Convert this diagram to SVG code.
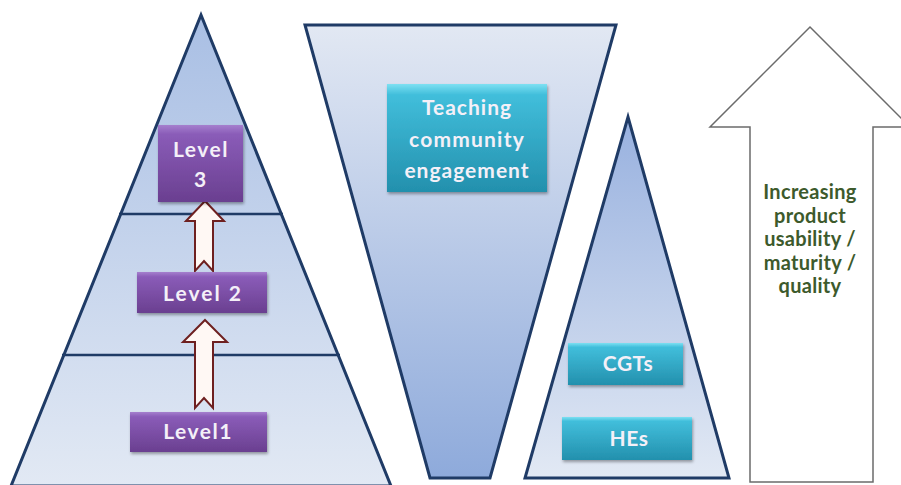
<svg xmlns="http://www.w3.org/2000/svg" width="901" height="485" viewBox="0 0 901 485">
<defs>
<linearGradient id="gPyr" x1="0" y1="0" x2="0" y2="1"><stop offset="0" stop-color="#a9bfe4"/><stop offset="1" stop-color="#e2e9f4"/></linearGradient>
<linearGradient id="gFun" x1="0" y1="0" x2="0" y2="1"><stop offset="0" stop-color="#e2e8f3"/><stop offset="1" stop-color="#8eaadb"/></linearGradient>
<linearGradient id="gTri" x1="0" y1="0" x2="0" y2="1"><stop offset="0" stop-color="#98b1df"/><stop offset="1" stop-color="#e2e9f4"/></linearGradient>
<linearGradient id="gPurple" x1="0" y1="0" x2="0" y2="1"><stop offset="0" stop-color="#a57fce"/><stop offset="0.12" stop-color="#8a5cb8"/><stop offset="1" stop-color="#6a3f90"/></linearGradient>
<linearGradient id="gTeal" x1="0" y1="0" x2="0" y2="1"><stop offset="0" stop-color="#7de0f2"/><stop offset="0.1" stop-color="#41bedb"/><stop offset="1" stop-color="#2390ad"/></linearGradient>
<filter id="sh" x="-10%" y="-10%" width="130%" height="140%"><feDropShadow dx="1" dy="2" stdDeviation="1.5" flood-color="#000" flood-opacity="0.35"/></filter>
</defs>
<style>
.shape{stroke:#1f3b66;stroke-width:3;stroke-linejoin:miter}
.div{stroke:#1f3b66;stroke-width:2.5}
.lvl{fill:url(#gPurple);filter:url(#sh)}
.teal{fill:url(#gTeal);filter:url(#sh)}
.t{font-family:Lato,"Liberation Sans",sans-serif;font-weight:bold;fill:#f4f0f8;text-anchor:middle;font-size:21px}
.up{fill:#fff8f4;stroke:#6e2020;stroke-width:2}
.big{fill:#fff;stroke:#6b6b6b;stroke-width:1.5}
.g{font-family:Lato,"Liberation Sans",sans-serif;font-weight:bold;fill:#3d5a2c;text-anchor:middle;font-size:20px;letter-spacing:0.3px}
</style>
<rect width="901" height="485" fill="#fff"/>
<g id="pyramid">
<polygon class="shape" points="201,15 11,486 391,486" fill="url(#gPyr)"/>
<line class="div" x1="119" y1="214" x2="283" y2="214"/>
<line class="div" x1="62" y1="355" x2="340" y2="355"/>
</g>
<g id="funnel">
<polygon class="shape" points="305,25 616,25 490,478 430,478" fill="url(#gFun)"/>
</g>
<g id="triangle">
<polygon class="shape" points="628,117 729,478 525,478" fill="url(#gTri)"/>
</g>
<g id="big-arrow">
<polygon class="big" points="810,27 910,127 873,127 873,482 750,482 750,127 710,127"/>
<text class="g" x="810" y="199">Increasing</text>
<text class="g" x="810" y="223">product</text>
<text class="g" x="810" y="246">usability /</text>
<text class="g" x="810" y="270">maturity /</text>
<text class="g" x="810" y="293">quality</text>
</g>
<g id="connectors">
<polygon class="up" points="205,201 224,221 213,221 213,271 204,261 195,271 195,221 186,221"/>
<polygon class="up" points="205,320 227,342 213,342 213,408 204,398 195,408 195,342 183,342"/>
</g>
<g id="level3">
<rect class="lvl" x="158" y="125" width="85" height="77"/>
<text class="t" x="201" y="157" letter-spacing="1.5">Level</text>
<text class="t" x="200" y="187">3</text>
</g>
<g id="level2">
<rect class="lvl" x="137" y="272" width="130" height="41"/>
<text class="t" x="203" y="301" letter-spacing="2">Level 2</text>
</g>
<g id="level1">
<rect class="lvl" x="130" y="412" width="137" height="40"/>
<text class="t" x="198" y="439" letter-spacing="1.5">Level1</text>
</g>
<g id="teaching">
<rect class="teal" x="387" y="84" width="160" height="108"/>
<text class="t" x="467" y="115" letter-spacing="1">Teaching</text>
<text class="t" x="467" y="147" letter-spacing="1.2">community</text>
<text class="t" x="467" y="178" letter-spacing="1">engagement</text>
</g>
<g id="cgts">
<rect class="teal" x="568" y="343" width="115" height="42"/>
<text class="t" x="628" y="371" letter-spacing="0.5">CGTs</text>
</g>
<g id="hes">
<rect class="teal" x="562" y="417" width="130" height="43"/>
<text class="t" x="629" y="446" letter-spacing="0.5">HEs</text>
</g>
</svg>
